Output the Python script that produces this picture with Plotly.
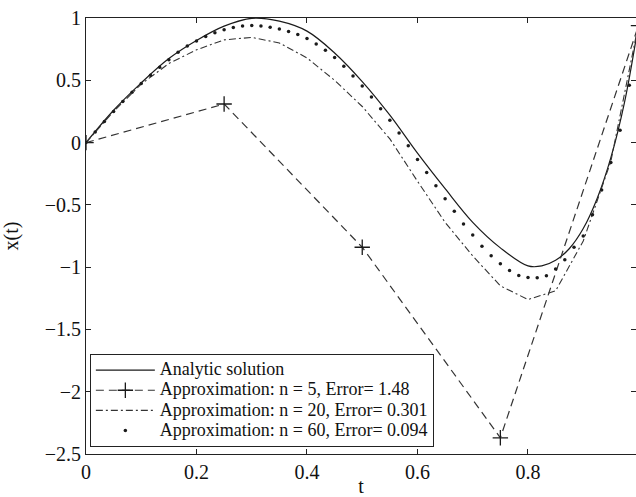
import plotly.graph_objects as go

# Analytic solution
t_exact = [0, 0.05, 0.1, 0.15, 0.2, 0.25, 0.3, 0.35, 0.4, 0.45, 0.5, 0.55, 0.6,
           0.65, 0.7, 0.75, 0.8, 0.825, 0.85, 0.875, 0.9, 0.925, 0.95, 0.975, 1.0]
x_exact = [0, 0.26, 0.48, 0.675, 0.82, 0.935, 0.998, 0.975, 0.895, 0.72, 0.49, 0.22, -0.085,
           -0.37, -0.64, -0.845, -0.99, -0.99, -0.945, -0.85, -0.69, -0.45, -0.12, 0.33, 0.95]

# n = 5 approximation
t5 = [0, 0.25, 0.5, 0.75, 1.0]
x5 = [0, 0.31, -0.84, -2.37, 0.94]

# n = 20 approximation
t20 = [0, 0.05, 0.1, 0.15, 0.2, 0.25, 0.3, 0.35, 0.4, 0.45, 0.5,
       0.55, 0.6, 0.65, 0.7, 0.75, 0.8, 0.85, 0.9, 0.95, 1.0]
x20 = [0, 0.25, 0.47, 0.635, 0.745, 0.825, 0.845, 0.80, 0.68, 0.50, 0.29,
       0.03, -0.31, -0.64, -0.91, -1.15, -1.26, -1.19, -0.79, -0.15, 0.95]

# n = 60 approximation (t = k/60)
k60 = list(range(61))
x60 = [0, 0.085, 0.17, 0.25, 0.33, 0.405, 0.475, 0.54, 0.605, 0.665,
       0.725, 0.775, 0.815, 0.852, 0.883, 0.907, 0.925, 0.937, 0.941, 0.936,
       0.926, 0.912, 0.893, 0.868, 0.835, 0.792, 0.742, 0.683, 0.614, 0.534,
       0.454, 0.366, 0.272, 0.179, 0.078, -0.026, -0.136, -0.24, -0.346, -0.45,
       -0.552, -0.653, -0.742, -0.832, -0.909, -0.973, -1.026, -1.066, -1.082, -1.085,
       -1.069, -1.015, -0.94, -0.84, -0.75, -0.58, -0.38, -0.16, 0.1, 0.46,
       0.95]
t60 = [k / 60 for k in k60]

names = ["Analytic solution",
         "Approximation: n = 5, Error= 1.48",
         "Approximation: n = 20, Error= 0.301",
         "Approximation: n = 60, Error= 0.094"]

FONT = "Liberation Serif"
INK = "#1a1a1a"


def big(s):
    return '<span style="font-size:18px">' + s + '</span>'


fig = go.Figure()
fig.add_trace(go.Scatter(x=t_exact, y=x_exact, mode="lines", name=big(names[0]),
                         line=dict(color=INK, width=1.2, shape="spline")))
fig.add_trace(go.Scatter(x=t5, y=x5, mode="lines+markers", name=big(names[1]),
                         line=dict(color="#333333", width=1.2, dash="8px,5px"),
                         marker=dict(symbol="cross-thin", size=11,
                                     line=dict(color=INK, width=1.3), color=INK)))
fig.add_trace(go.Scatter(x=t20, y=x20, mode="lines", name=big(names[2]),
                         line=dict(color="#333333", width=1.1, dash="7px,3px,2px,3px")))
fig.add_trace(go.Scatter(x=t60, y=x60, mode="markers", name=big(names[3]),
                         marker=dict(symbol="circle", size=3.5, color=INK)))

axis_common = dict(showline=True, linecolor="#222", linewidth=1, mirror="ticks",
                   ticks="inside", ticklen=5, tickcolor="#222", showgrid=False,
                   zeroline=False, tickfont=dict(family=FONT, size=20, color="#111"))

fig.update_layout(
    width=636, height=497,
    margin=dict(l=86, r=0, t=18, b=43),
    paper_bgcolor="white", plot_bgcolor="white",
    font=dict(family=FONT, size=17, color="#111"),
    xaxis=dict(range=[0, 0.9955], tickvals=[0, 0.2, 0.4, 0.6, 0.8, 1],
               ticktext=["0", "0.2", "0.4", "0.6", "0.8", "1"],
               title=dict(text="t", font=dict(family=FONT, size=20), standoff=0),
               **axis_common),
    yaxis=dict(range=[-2.5, 1.0005], tickvals=[1, 0.5, 0, -0.5, -1, -1.5, -2, -2.5],
               ticktext=["1", "0.5", "0", "\u22120.5", "\u22121", "\u22121.5", "\u22122", "\u22122.5"],
               title=dict(text="x(t)", font=dict(family=FONT, size=20), standoff=34),
               automargin=False, **axis_common),
    legend=dict(x=0.007, y=0.016, xanchor="left", yanchor="bottom",
                bgcolor="white", bordercolor="#222", borderwidth=1,
                font=dict(family=FONT, size=13.2, color="#111"),
                itemwidth=59, tracegroupgap=0),
    showlegend=True,
)

fig.write_html(
    "out.html",
    config={"displayModeBar": False},
    post_script="document.body.style.margin='0';"
                "document.body.style.overflow='hidden';"
                "document.documentElement.style.overflow='hidden';",
)
